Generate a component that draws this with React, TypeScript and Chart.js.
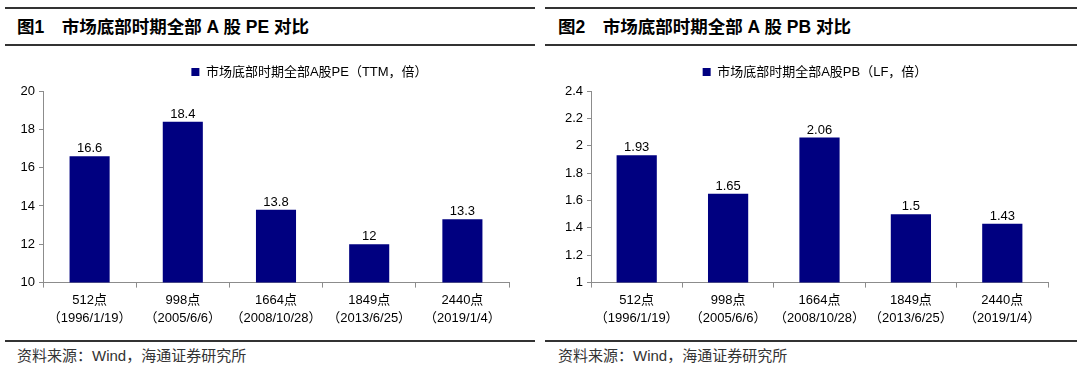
import React, { useEffect, useRef } from 'react';
import { Chart, registerables } from 'chart.js';

Chart.register(...registerables);

const categoryPoints = ['512点', '998点', '1664点', '1849点', '2440点'];
const categoryDates = ['（1996/1/19）', '（2005/6/6）', '（2008/10/28）', '（2013/6/25）', '（2019/1/4）'];
const peValues = [16.6, 18.4, 13.8, 12, 13.3];
const pbValues = [1.93, 1.65, 2.06, 1.5, 1.43];
const peLegend = '市场底部时期全部A股PE（TTM，倍）';
const pbLegend = '市场底部时期全部A股PB（LF，倍）';
const peTitle = '图1\u3000市场底部时期全部 A 股 PE 对比';
const pbTitle = '图2\u3000市场底部时期全部 A 股 PB 对比';
const sourceText = '资料来源：Wind，海通证券研究所';
const peAxisRange = [10, 20, 2];
const pbAxisRange = [1, 2.4, 0.2];

const FONT = '"Liberation Sans", Arial, "Noto Sans CJK SC", sans-serif';
const BAR_COLOR = '#000080';
const AXIS_COLOR = '#8c8c8c';

const valueLabelPlugin = {
  id: 'valueLabels',
  afterDatasetsDraw(chart: any) {
    const ctx = chart.ctx;
    const meta = chart.getDatasetMeta(0);
    const data = chart.data.datasets[0].data;
    ctx.save();
    ctx.font = `13px ${FONT}`;
    ctx.fillStyle = '#000';
    ctx.textAlign = 'center';
    ctx.textBaseline = 'bottom';
    meta.data.forEach((el: any, i: number) => {
      ctx.fillText(String(data[i]), el.x, el.y - 1);
    });
    ctx.restore();
  },
};

const legendShiftPlugin = {
  id: 'legendShift',
  afterLayout(chart: any, _args: any, opts: any) {
    const l = chart.legend;
    if (!l) return;
    const dx = opts.dx || 0;
    const dy = opts.dy || 0;
    l.left += dx;
    l.right += dx;
    l.top += dy;
    l.bottom += dy;
  },
};

function makeChart(
  canvas: HTMLCanvasElement,
  values: number[],
  legend: string,
  range: number[],
  padRight: number,
  barPct: number,
  dx: number,
  dy: number
) {
  const labels = categoryPoints.map((p, i) => [p, categoryDates[i]]);
  return new Chart(canvas, {
    type: 'bar',
    data: {
      labels,
      datasets: [
        {
          label: legend,
          data: values,
          backgroundColor: BAR_COLOR,
          borderWidth: 0,
          barPercentage: barPct,
          categoryPercentage: 1,
        },
      ],
    },
    options: {
      responsive: false,
      animation: false,
      layout: { padding: { left: 0, right: padRight, top: 0, bottom: 0 } },
      plugins: {
        legend: {
          display: true,
          position: 'top',
          labels: {
            boxWidth: 8,
            boxHeight: 8,
            padding: 10,
            color: '#000',
            font: { size: 13, family: FONT },
          },
        },
        tooltip: { enabled: false },
        legendShift: { dx, dy },
      },
      scales: {
        x: {
          grid: {
            display: true,
            drawOnChartArea: false,
            drawTicks: true,
            tickLength: 5,
            color: AXIS_COLOR,
            offset: true,
          },
          border: { display: true, color: AXIS_COLOR, width: 1 },
          ticks: {
            color: '#000',
            font: { size: 13, family: FONT, lineHeight: 1.4 },
            padding: 4,
            maxRotation: 0,
            autoSkip: false,
          },
        },
        y: {
          min: range[0],
          max: range[1],
          afterFit(scale: any) {
            scale.width = 43;
          },
          grid: {
            display: true,
            drawOnChartArea: false,
            drawTicks: true,
            tickLength: 4,
            color: AXIS_COLOR,
          },
          border: { display: true, color: AXIS_COLOR, width: 1 },
          ticks: {
            stepSize: range[2],
            color: '#000',
            font: { size: 13, family: FONT },
            padding: 4,
            callback: (v: any) => String(parseFloat(Number(v).toFixed(2))),
          },
        },
      },
    },
    plugins: [valueLabelPlugin, legendShiftPlugin],
  } as any);
}

const titleStyle = (left: number, width: number): React.CSSProperties => ({
  position: 'absolute',
  left,
  top: 7,
  width,
  height: 35,
  borderTop: '2px solid #333',
  borderBottom: '2px solid #333',
  boxSizing: 'content-box',
  fontFamily: FONT,
  fontWeight: 'bold',
  fontSize: 17.5,
  lineHeight: '36px',
  color: '#000',
  whiteSpace: 'nowrap',
});

const footerStyle = (left: number, width: number): React.CSSProperties => ({
  position: 'absolute',
  left,
  top: 340,
  width,
  borderTop: '2px solid #333',
  fontFamily: FONT,
  fontSize: 15,
  color: '#333',
  lineHeight: '28px',
  whiteSpace: 'nowrap',
});

export default function App() {
  const leftRef = useRef<HTMLCanvasElement>(null);
  const rightRef = useRef<HTMLCanvasElement>(null);

  useEffect(() => {
    const c1 = makeChart(leftRef.current!, peValues, peLegend, peAxisRange, 26, 0.43, 55, -2.5);
    const c2 = makeChart(rightRef.current!, pbValues, pbLegend, pbAxisRange, 29, 0.44, 17, -2.5);
    return () => {
      c1.destroy();
      c2.destroy();
    };
  }, []);

  return (
    <div style={{ position: 'fixed', left: 0, top: 0, width: 1080, height: 370, background: '#fff', overflow: 'hidden' }}>
      <div style={titleStyle(5, 530)}>
        <span style={{ marginLeft: 12 }}>{peTitle}</span>
      </div>
      <div style={titleStyle(545, 532)}>
        <span style={{ marginLeft: 13 }}>{pbTitle}</span>
      </div>
      <canvas ref={leftRef} width={535} height={274} style={{ position: 'absolute', left: 0, top: 58 }} />
      <canvas ref={rightRef} width={529} height={274} style={{ position: 'absolute', left: 548, top: 58 }} />
      <div style={footerStyle(5, 530)}>
        <span style={{ marginLeft: 12 }}>{sourceText}</span>
      </div>
      <div style={footerStyle(545, 532)}>
        <span style={{ marginLeft: 13 }}>{sourceText}</span>
      </div>
    </div>
  );
}
